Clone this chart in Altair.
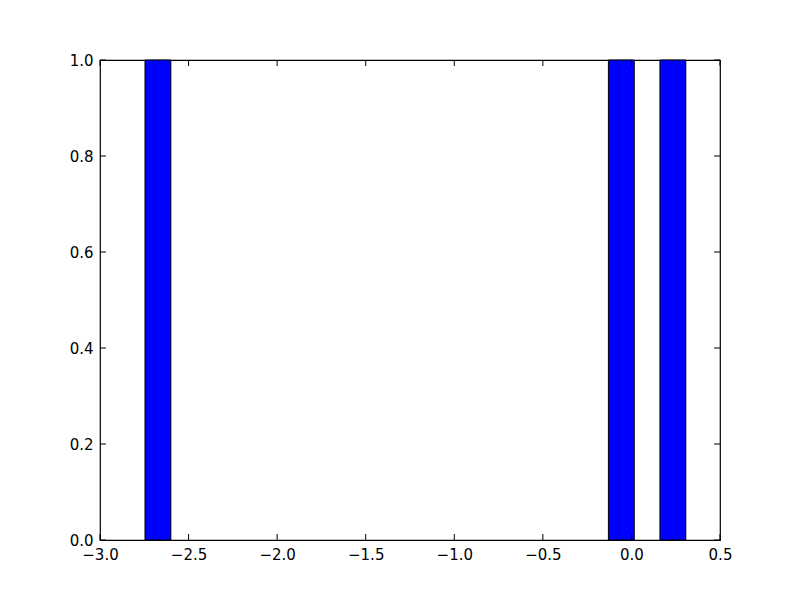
import altair as alt
import pandas as pd

bin_start = [-2.746, -0.130, 0.161]
bin_end = [-2.600, 0.016, 0.307]
counts = [1, 1, 1]

x_ticks = [-3.0, -2.5, -2.0, -1.5, -1.0, -0.5, 0.0, 0.5]
y_ticks = [0.0, 0.2, 0.4, 0.6, 0.8, 1.0]

bars_df = pd.DataFrame({"start": bin_start, "end": bin_end, "count": counts})
xt_df = pd.DataFrame({"v": x_ticks})
yt_df = pd.DataFrame({"v": y_ticks})

W, H = 620, 480
TL = 6
FONT = "DejaVu Sans"

xscale = alt.Scale(domain=[-3.0, 0.5], nice=False, zero=False)
yscale = alt.Scale(domain=[0.0, 1.0], nice=False)

xaxis = alt.Axis(values=x_ticks, format=".1f", ticks=False, domain=False, grid=False,
                 labelFont=FONT, labelFontSize=15, labelColor="black", labelPadding=7,
                 title=None, labelFlush=False)
yaxis = alt.Axis(values=y_ticks, format=".1f", ticks=False, domain=False, grid=False,
                 labelFont=FONT, labelFontSize=15, labelColor="black", labelPadding=7,
                 title=None, labelFlush=False)

bars = alt.Chart(bars_df).mark_rect(color="#0000ff", stroke="black", strokeWidth=1).encode(
    x=alt.X("start:Q", scale=xscale, axis=xaxis),
    x2="end:Q",
    y=alt.Y("count:Q", scale=yscale, axis=yaxis),
    y2=alt.datum(0),
)

xb = alt.Chart(xt_df).mark_rule(color="black", strokeWidth=1).encode(
    x=alt.X("v:Q", scale=xscale), y=alt.value(H), y2=alt.value(H - TL))
xtp = alt.Chart(xt_df).mark_rule(color="black", strokeWidth=1).encode(
    x=alt.X("v:Q", scale=xscale), y=alt.value(0), y2=alt.value(TL))
yl = alt.Chart(yt_df).mark_rule(color="black", strokeWidth=1).encode(
    y=alt.Y("v:Q", scale=yscale), x=alt.value(0), x2=alt.value(TL))
yr = alt.Chart(yt_df).mark_rule(color="black", strokeWidth=1).encode(
    y=alt.Y("v:Q", scale=yscale), x=alt.value(W), x2=alt.value(W - TL))

chart = alt.layer(bars, xb, xtp, yl, yr).properties(
    width=W, height=H,
    background="white",
    autosize=alt.AutoSizeParams(type="none"),
    padding={"left": 92, "top": 52, "right": 72, "bottom": 52},
).configure_view(stroke="black", strokeWidth=1.2)

chart.save("out.html", embed_options={"renderer": "svg", "actions": False})
